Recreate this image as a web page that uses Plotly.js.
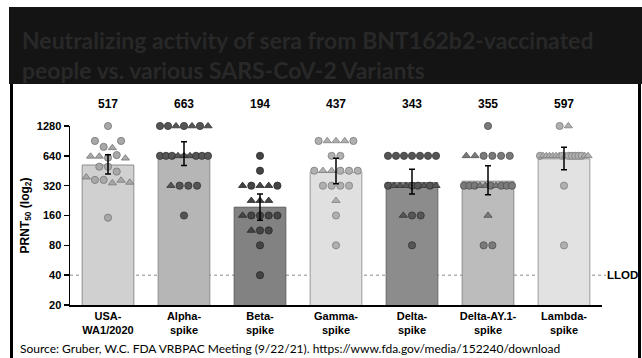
<!DOCTYPE html>
<html>
<head>
<meta charset="utf-8">
<script src="https://cdn.plot.ly/plotly-3.0.1.min.js"></script>
<style>
  html, body { margin: 0; padding: 0; background: #ffffff; }
  #chart { width: 642px; height: 358px; }
</style>
</head>
<body>
<div id="chart"></div>
<script>
// ---------------- data ----------------
const categories = ["USA-<br>WA1/2020", "Alpha-<br>spike", "Beta-<br>spike", "Gamma-<br>spike",
                    "Delta-<br>spike", "Delta-AY.1-<br>spike", "Lambda-<br>spike"];
const gmt    = [517, 663, 194, 437, 343, 355, 597];
const ciLow  = [420, 510, 143, 334, 263, 259, 462];
const ciHigh = [656, 890, 263, 605, 468, 509, 780];
const yTicks = [20, 40, 80, 160, 320, 640, 1280];
const llod = 40;

// individual titers (row by row, left to right); c = circle, t = triangle
const usaVals    = [1280, 905, 788, 770, 905, 632, 632, 612, 651, 605, 497, 497, 444, 390, 366, 366, 340, 362, 345, 152];
const usaSyms    = "ccctcttcctccctcctttc".split("");
const alphaVals  = [1280, 1280, 1280, 1280, 1280, 1280, 1280, 640, 640, 640, 640, 640, 640, 640, 640, 640, 320, 320, 320, 320, 160];
const alphaSyms  = "cctctctccctttccctcccc".split("");
const betaVals   = [640, 453, 320, 320, 320, 320, 320, 226, 226, 226, 160, 160, 160, 160, 160, 113, 113, 113, 80, 40];
const betaSyms   = "cctcttcttttcccctcccc".split("");
const gammaVals  = [905, 905, 905, 905, 905, 640, 640, 453, 453, 453, 453, 453, 453, 320, 320, 320, 320, 226, 160, 80];
const gammaSyms  = "ctttccccttccccccctcc".split("");
const deltaVals  = [640, 640, 640, 640, 640, 640, 640, 320, 320, 320, 320, 320, 320, 320, 320, 320, 160, 160, 160, 80];
const deltaSyms  = "ccccccc" .concat("ctttcctct", "tcc", "c").split("");
const ay1Vals    = [1280, 640, 640, 640, 640, 640, 640, 320, 320, 320, 320, 320, 320, 320, 320, 320, 320, 160, 80, 80];
const ay1Syms    = "cttcccccccttctccctcc".split("");
const lambdaVals = [1280, 1280, 640, 640, 640, 640, 640, 640, 640, 640, 640, 640, 640, 640, 640, 640, 640, 640, 320, 80];
const lambdaSyms = "ctcttttttctcccccttcc".split("");

const groupVals = [usaVals, alphaVals, betaVals, gammaVals, deltaVals, ay1Vals, lambdaVals];
const groupSyms = [usaSyms, alphaSyms, betaSyms, gammaSyms, deltaSyms, ay1Syms, lambdaSyms];

// ---------------- styles ----------------
const barFill    = ["#d0d0d0", "#b6b6b6", "#828282", "#e0e0e0", "#8c8c8c", "#bcbcbc", "#e2e2e2"];
const barLine    = ["#8e8e8e", "#8a8a8a", "#5e5e5e", "#9a9a9a", "#676767", "#8a8a8a", "#9c9c9c"];
const dotFill    = ["#a8a8a8", "#555555", "#444444", "#b0b0b0", "#565656", "#7a7a7a", "#b0b0b0"];
const dotLine    = ["#767676", "#333333", "#2a2a2a", "#7e7e7e", "#343434", "#505050", "#7c7c7c"];

const W = 642, H = 358;
const plotL = 70, plotR = 602, plotTop = 126, plotBot = 305;
const pxPerCat = (plotR - plotL) / categories.length;

// beeswarm-like rows: points with similar titers share a row, spread horizontally
function rowOffsets(values) {
  const rows = [];
  values.forEach((v, k) => {
    let r = rows.find(r => Math.abs(Math.log2(v / r.ref)) < 0.25);
    if (!r) { r = { ref: v, idx: [] }; rows.push(r); }
    r.idx.push(k);
  });
  const off = new Array(values.length).fill(0);
  rows.forEach(r => {
    const n = r.idx.length;
    const sp = n > 1 ? Math.min(8.7, 48 / (n - 1)) : 0;
    r.idx.forEach((k, j) => { off[k] = (j - (n - 1) / 2) * sp / pxPerCat; });
  });
  return off;
}

const idx = categories.map((_, i) => i);
const traces = [];

traces.push({
  type: "bar", x: idx, y: gmt, width: 0.68,
  marker: { color: barFill, line: { color: barLine, width: 1 } },
  hoverinfo: "skip", showlegend: false
});

groupVals.forEach((vals, i) => {
  const off = rowOffsets(vals);
  traces.push({
    type: "scatter", mode: "markers",
    x: vals.map((_, k) => i + off[k]), y: vals,
    cliponaxis: false,
    marker: {
      symbol: groupSyms[i].map(s => s === "t" ? "triangle-up" : "circle"),
      size: 7.2, color: dotFill[i], line: { color: dotLine[i], width: 0.8 }
    },
    hoverinfo: "skip", showlegend: false
  });
});

traces.push({
  type: "scatter", mode: "markers", x: idx, y: gmt, cliponaxis: false,
  marker: { size: 1, opacity: 0 },
  error_y: {
    type: "data", symmetric: false,
    array: gmt.map((g, i) => ciHigh[i] - g),
    arrayminus: gmt.map((g, i) => g - ciLow[i]),
    color: "#000000", thickness: 1.5, width: 3
  },
  hoverinfo: "skip", showlegend: false
});

const px2x = p => p / W;
const px2y = p => 1 - p / H;
const axFont = { family: "Liberation Sans, Arial, sans-serif", size: 11, color: "#000000", weight: "bold" };

const annotations = [
  {
    xref: "paper", yref: "paper", x: px2x(20), y: px2y(55), xanchor: "left", yanchor: "middle",
    align: "left", showarrow: false,
    text: "Neutralizing activity of sera from BNT162b2-vaccinated<br>people vs. various SARS-CoV-2 Variants",
    font: { family: "Lato, Open Sans, sans-serif", size: 23, color: "#282828", weight: "bold" }
  },
  {
    xref: "paper", yref: "paper", x: px2x(18), y: px2y(348.5), xanchor: "left", yanchor: "middle",
    showarrow: false,
    text: "Source: Gruber, W.C. FDA VRBPAC Meeting (9/22/21). https://www.fda.gov/media/152240/download",
    font: { family: "Lato, Open Sans, sans-serif", size: 12, color: "#000000" }
  },
  {
    xref: "paper", yref: "paper", x: px2x(25), y: px2y((plotTop + plotBot) / 2),
    textangle: -90, showarrow: false, xanchor: "center", yanchor: "middle",
    text: "PRNT<sub>50</sub> (log<sub>2</sub>)",
    font: { family: "Liberation Sans, Arial, sans-serif", size: 12, color: "#000000", weight: "bold" }
  },
  {
    xref: "paper", yref: "y", x: px2x(622), y: Math.log10(llod), xanchor: "center", yanchor: "middle",
    showarrow: false, text: "LLOD",
    font: { family: "Liberation Sans, Arial, sans-serif", size: 11.5, color: "#000000", weight: "bold" }
  }
];
gmt.forEach((g, i) => {
  annotations.push({
    xref: "x", yref: "paper", x: i, y: px2y(104), xanchor: "center", yanchor: "middle",
    showarrow: false, text: String(g),
    font: { family: "Liberation Sans, Arial, sans-serif", size: 12, color: "#000000", weight: "bold" }
  });
});

const shapes = [
  { type: "line", layer: "below", xref: "paper", yref: "y",
    x0: px2x(plotL), x1: px2x(606), y0: llod, y1: llod,
    line: { color: "#8a8a8a", width: 1, dash: "3px,3px" } },
  { type: "rect", xref: "paper", yref: "paper", x0: px2x(9), x1: 1.01, y0: px2y(84), y1: px2y(7),
    fillcolor: "#141414", line: { width: 0 } },
  { type: "line", xref: "paper", yref: "paper", x0: px2x(11.5), x1: px2x(11.5), y0: px2y(84), y1: -0.02,
    line: { color: "#000000", width: 3 } },
  { type: "line", xref: "paper", yref: "paper", x0: px2x(639.5), x1: px2x(639.5), y0: px2y(84), y1: -0.02,
    line: { color: "#000000", width: 3 } }
];

const layout = {
  width: W, height: H, margin: { l: 0, r: 0, t: 0, b: 0 },
  paper_bgcolor: "#ffffff", plot_bgcolor: "#ffffff",
  showlegend: false, barmode: "overlay",
  xaxis: {
    domain: [px2x(plotL), px2x(plotR)], range: [-0.5, categories.length - 0.5],
    tickmode: "array", tickvals: idx, ticktext: categories, ticks: "",
    showline: true, linecolor: "#000000", linewidth: 1.5, showgrid: false, zeroline: false,
    tickfont: axFont, fixedrange: true
  },
  yaxis: {
    domain: [px2y(plotBot), px2y(plotTop)], type: "log",
    range: [Math.log10(yTicks[0]), Math.log10(yTicks[yTicks.length - 1])],
    tickmode: "array", tickvals: yTicks, ticktext: yTicks.map(String),
    ticks: "outside", ticklen: 5, tickwidth: 1.5, tickcolor: "#000000",
    showline: true, linecolor: "#000000", linewidth: 1.5, showgrid: false, zeroline: false,
    tickfont: axFont, fixedrange: true
  },
  annotations: annotations,
  shapes: shapes
};

Plotly.newPlot("chart", traces, layout, { displayModeBar: false, staticPlot: true });
</script>
</body>
</html>
